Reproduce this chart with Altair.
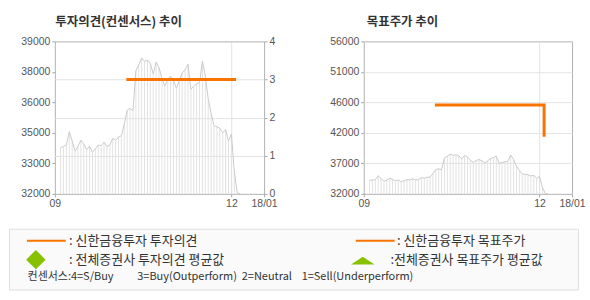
import altair as alt
import pandas as pd

# ---------------- data ----------------
prices = [34120, 34180, 34250, 34850, 34430, 33970, 34180, 34460, 34300, 34030,
          34180, 33910, 34060, 34240, 34210, 34370, 34180, 34240, 34550, 34460,
          34610, 34670, 35200, 35840, 35930, 35810, 37650, 37930, 38240, 38080,
          38140, 37990, 37500, 38050, 37800, 37300, 36950, 37250, 37400, 37200,
          36850, 37200, 37550, 37700, 37950, 36800, 36930, 37060, 37100, 38100,
          37400, 36350, 35700, 35130, 35080, 35010, 34800, 34950, 34430, 34750,
          33050, 32050, 32000]
opinion_x = [22.7, 60.6]
opinion_val = [3, 3]
target_x = [22.7, 60.6, 60.6]
target_val = [46000, 46000, 41000]

x_domain = [-2, 70.3]
x_ticks = [-2, 59, 70.3]
x_labels = ["09", "12", "18/01"]
left_price_domain = [32000, 39000]
left_price_ticks = [32000, 33400, 34800, 36200, 37600, 39000]
opinion_domain = [0, 4]
opinion_ticks = [0, 1, 2, 3, 4]
right_price_domain = [32000, 56000]
right_price_ticks = [32000, 36800, 41600, 46400, 51200, 56000]

title_left = "투자의견(컨센서스) 추이"
title_right = "목표주가 추이"
legend_row1 = [": 신한금융투자 투자의견", ": 신한금융투자 목표주가"]
legend_row2 = [": 전체증권사 투자의견 평균값", ":전체증권사 목표주가 평균값"]
legend_row3 = ["컨센서스:4=S/Buy", "3=Buy(Outperform)", "2=Neutral", "1=Sell(Underperform)"]

# ---------------- styles ----------------
ORANGE = "#f87300"
GREEN = "#86c200"
BAR = "#e2e2e2"
LINE = "#cbcbcb"
GRID = "#e3e3e3"
AXC = "#a8a8a8"
LBL = "#555555"
TXT = "#333333"
KFONT = "Noto Sans CJK KR"
NFONT = "Liberation Sans"
W_L, W_R, H = 210, 209, 153

price_df = pd.DataFrame({"i": list(range(len(prices))), "price": prices})
op_df = pd.DataFrame({"x": opinion_x, "v": opinion_val})
tp_df = pd.DataFrame({"x": target_x, "v": target_val, "o": list(range(len(target_x)))})


def label_expr(vals, labels):
    e = "''"
    for v, l in reversed(list(zip(vals, labels))):
        e = f"abs(datum.value - ({v})) < 0.01 ? '{l}' : ({e})"
    return e


thousands = "format(round(datum.value / 1000) * 1000, 'd')"

x_axis = alt.Axis(values=x_ticks, labelExpr=label_expr(x_ticks, x_labels), title=None,
                  grid=True, gridColor=GRID,
                  gridOpacity={"condition": {"test": f"datum.value > {x_domain[0]} && datum.value < {x_domain[1]}", "value": 1}, "value": 0},
                  domain=False, ticks=True, tickSize=3, tickColor=AXC,
                  labelFlush=False, labelOverlap=False, labelPadding=2,
                  labelFont=NFONT, labelFontSize=10.5, labelColor=LBL)
x_enc_i = alt.X("i:Q", scale=alt.Scale(domain=x_domain, nice=False, zero=False), axis=x_axis)
x_enc_x = alt.X("x:Q", scale=alt.Scale(domain=x_domain, nice=False, zero=False), axis=x_axis)


def y_axis(vals, orient, grid, lo, hi, expr=None):
    kw = dict(values=vals, orient=orient, title=None, domain=False, ticks=True, tickSize=3,
              tickColor=AXC, labelPadding=2, labelFont=NFONT, labelFontSize=10.5,
              labelColor=LBL, labelOverlap=False, labelFlush=False, grid=grid)
    if grid:
        kw["gridColor"] = GRID
        kw["gridOpacity"] = {"condition": {"test": f"datum.value > {lo} && datum.value < {hi}", "value": 1}, "value": 0}
    if expr:
        kw["labelExpr"] = expr
    return alt.Axis(**kw)


def price_layers(domain, ticks, grid):
    ax = y_axis(ticks, "left", grid, domain[0], domain[1], thousands)
    sc = alt.Scale(domain=domain, nice=False, zero=False)
    bars = alt.Chart(price_df).mark_rule(color=BAR, strokeWidth=1).encode(
        x=x_enc_i, y=alt.Y("price:Q", scale=sc, axis=ax), y2=alt.datum(domain[0]))
    line = alt.Chart(price_df).mark_line(color=LINE, strokeWidth=1).encode(
        x=x_enc_i, y=alt.Y("price:Q", scale=sc, axis=ax))
    return [bars, line]


one = pd.DataFrame({"a": [0]})


def txt(t, x, y, size, weight="normal", color=TXT, baseline="middle"):
    return alt.Chart(pd.DataFrame({"t": [t]})).mark_text(
        align="left", baseline=baseline, font=KFONT, fontSize=size, fontWeight=weight,
        color=color).encode(x=alt.value(x), y=alt.value(y), text="t:N")


# page-sized frame (positions relative to the left plot's origin at 54,40)
frame = alt.Chart(one).mark_rect(fill="white", fillOpacity=0, strokeOpacity=0).encode(
    x=alt.value(-54), x2=alt.value(536), y=alt.value(-40), y2=alt.value(260))

legend_box = alt.Chart(one).mark_rect(fill="#fafafa", stroke="#dedede", strokeWidth=1).encode(
    x=alt.value(-45.5), x2=alt.value(525.5), y=alt.value(188.5), y2=alt.value(249.5))
leg_line1 = alt.Chart(one).mark_rule(color=ORANGE, strokeWidth=2).encode(
    x=alt.value(-28), x2=alt.value(11), y=alt.value(200))
leg_line2 = alt.Chart(one).mark_rule(color=ORANGE, strokeWidth=2).encode(
    x=alt.value(302), x2=alt.value(341), y=alt.value(200))
leg_diamond = alt.Chart(one).mark_point(shape="diamond", filled=True, color=GREEN, size=380, opacity=1).encode(
    x=alt.value(-19), y=alt.value(219))
leg_tri = alt.Chart(one).mark_point(shape="M-1,0.33L0,-0.33L1,0.33Z", filled=True, color=GREEN, size=560, opacity=1).encode(
    x=alt.value(309), y=alt.value(220))
legend_layers = [
    legend_box, leg_line1, leg_line2, leg_diamond, leg_tri,
    txt(legend_row1[0], 14.3, 200, 13), txt(legend_row1[1], 343.3, 200, 13),
    txt(legend_row2[0], 14.3, 219.5, 13), txt(legend_row2[1], 336.7, 219.5, 13),
    txt(legend_row3[0], -27.3, 236, 11), txt(legend_row3[1], 82.7, 236, 11),
    txt(legend_row3[2], 187.6, 236, 11), txt(legend_row3[3], 247.7, 236, 11),
]

opinion_left = alt.Chart(op_df).mark_line(color=ORANGE, strokeWidth=3, strokeCap="butt").encode(
    x=x_enc_x,
    y=alt.Y("v:Q", scale=alt.Scale(domain=opinion_domain, nice=False, zero=False),
            axis=y_axis(opinion_ticks, "right", True, opinion_domain[0], opinion_domain[1])))

left = alt.layer(
    frame,
    alt.layer(*price_layers(left_price_domain, left_price_ticks, False)),
    opinion_left,
    txt(title_left, 0.5, -15, 12.5, "bold", TXT, "alphabetic"),
    *legend_layers,
).resolve_scale(y="independent").properties(width=W_L, height=H)

target_right = alt.Chart(tp_df).mark_line(color=ORANGE, strokeWidth=3, strokeCap="butt", strokeJoin="miter").encode(
    x=x_enc_x,
    y=alt.Y("v:Q", scale=alt.Scale(domain=right_price_domain, nice=False, zero=False),
            axis=y_axis(right_price_ticks, "left", True, right_price_domain[0], right_price_domain[1], thousands)),
    order="o:O")

right = alt.layer(
    *price_layers(right_price_domain, right_price_ticks, True),
    target_right,
    txt(title_right, 3, -15, 12.5, "bold", TXT, "alphabetic"),
).properties(width=W_R, height=H)

chart = alt.hconcat(left, right, spacing=100, bounds="flush").properties(
    padding={"left": 0, "top": 0, "right": 0, "bottom": 0},
    background="white",
).configure_view(stroke="#b2b2b2", strokeWidth=1)

chart.save("out.html", embed_options={"renderer": "svg", "actions": False})
